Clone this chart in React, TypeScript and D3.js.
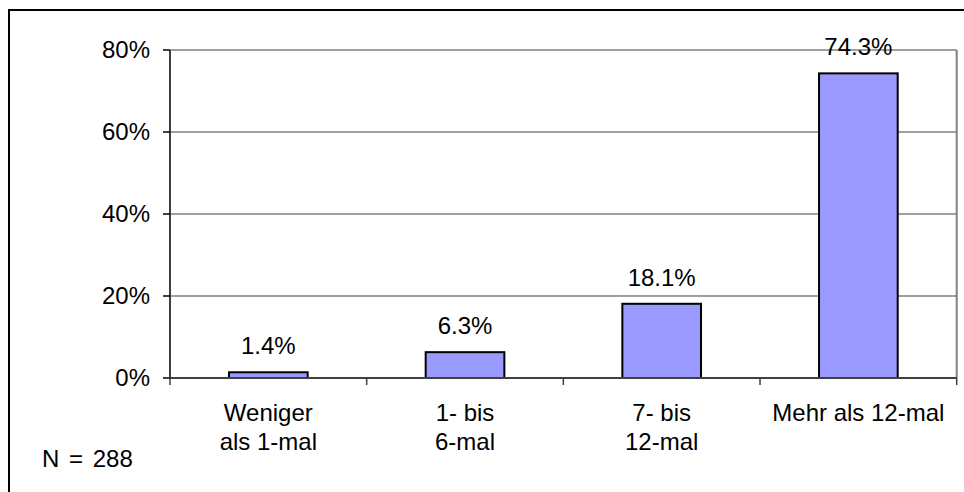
import React from 'react';
import * as d3 from 'd3';

// values
const categories = ['Weniger als 1-mal', '1- bis 6-mal', '7- bis 12-mal', 'Mehr als 12-mal'];
const categoryLines = [['Weniger', 'als 1-mal'], ['1- bis', '6-mal'], ['7- bis', '12-mal'], ['Mehr als 12-mal']];
const values = [0.014, 0.063, 0.181, 0.743];
const valueLabels = ['1.4%', '6.3%', '18.1%', '74.3%'];
const yTicks = [0, 0.2, 0.4, 0.6, 0.8];
const note = 'N = 288';

const W = 964;
const H = 492;
const plot = { left: 170, right: 956.7, top: 50, bottom: 378 };
const font = '"Liberation Sans", Arial, sans-serif';
const fs = 24;

const App = () => {
  const x = d3.scaleBand<string>()
    .domain(categories)
    .range([plot.left, plot.right])
    .paddingInner(0.6)
    .paddingOuter(0.3);

  const y = d3.scaleLinear().domain([0, 0.8]).range([plot.bottom, plot.top]);
  const fmt = d3.format('.0%');
  const step = x.step();
  const boundaries = d3.range(categories.length + 1).map(i => plot.left + i * step);
  const cx = (c: string) => (x(c) ?? 0) + x.bandwidth() / 2;

  return (
    <svg width={W} height={H} style={{ position: 'absolute', left: 0, top: 0, background: '#fff' }}
      fontFamily={font}>
      {/* outer frame */}
      <rect x={9} y={10} width={1000} height={1000} fill="none" stroke="#000" strokeWidth={2} />

      {/* gridlines */}
      {yTicks.filter(t => t > 0).map(t => (
        <line key={t} x1={plot.left} x2={plot.right} y1={y(t)} y2={y(t)} stroke="#808080" strokeWidth={1.5} />
      ))}
      {/* plot right edge */}
      <line x1={plot.right} x2={plot.right} y1={plot.top} y2={plot.bottom} stroke="#808080" strokeWidth={2} />

      {/* bars */}
      {categories.map((c, i) => (
        <rect key={c} x={x(c)} y={y(values[i])} width={x.bandwidth()} height={y(0) - y(values[i])}
          fill="#9999FF" stroke="#000" strokeWidth={2} />
      ))}

      {/* y axis */}
      <line x1={plot.left} x2={plot.left} y1={plot.top} y2={plot.bottom} stroke="#404040" strokeWidth={2} />
      {yTicks.map(t => (
        <g key={t}>
          <line x1={plot.left - 7} x2={plot.left} y1={y(t)} y2={y(t)} stroke="#000" strokeWidth={1.5} />
          <text x={150} y={y(t) + 8} textAnchor="end" fontSize={fs} fill="#000">{fmt(t)}</text>
        </g>
      ))}

      {/* x axis */}
      <line x1={plot.left} x2={plot.right} y1={plot.bottom} y2={plot.bottom} stroke="#404040" strokeWidth={2} />
      {boundaries.map((b, i) => (
        <line key={i} x1={b} x2={b} y1={plot.bottom} y2={plot.bottom + 7} stroke="#404040" strokeWidth={1.5} />
      ))}
      {categories.map((c, i) => (
        <text key={c} x={cx(c)} y={421} textAnchor="middle" fontSize={fs} fill="#000">
          {categoryLines[i].map((l, j) => (
            <tspan key={j} x={cx(c)} dy={j === 0 ? 0 : 29}>{l}</tspan>
          ))}
        </text>
      ))}

      {/* value labels */}
      {categories.map((c, i) => (
        <text key={c} x={cx(c)} y={y(values[i]) - 18} textAnchor="middle"
          fontSize={fs} fill="#000">{valueLabels[i]}</text>
      ))}

      <text x={42} y={467} fontSize={fs} wordSpacing={3} fill="#000">{note}</text>
    </svg>
  );
};

export default App;
